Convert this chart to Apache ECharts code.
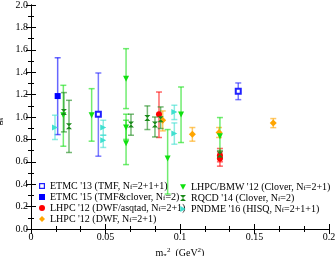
<!DOCTYPE html>
<html><head><meta charset="utf-8">
<script src="https://cdn.jsdelivr.net/npm/echarts@6/dist/echarts.min.js"></script>
<style>html,body{margin:0;padding:0;background:#fff}#c{width:336px;height:256px}</style>
</head><body><div id="c"></div>
<script>
// each point: [m_pi^2, g, lower, upper]
const etmc13 = [[0.0452,1.024,0.650,1.393],[0.1391,1.229,1.155,1.304]];
const etmc15 = [[0.0179,1.187,0.843,1.529]];
const lhpcMixed = [[0.0859,1.025,0.817,1.223],[0.1268,0.659,0.600,0.719],[0.1268,0.630,0.561,0.689]];
const lhpcDwf = [[0.0884,0.971,0.876,1.054],[0.1083,0.846,0.784,0.906],[0.1262,0.861,0.817,0.906],[0.1626,0.947,0.905,0.986]];
const lhpcBmw = [[0.0217,1.016,0.739,1.283],[0.0407,1.016,0.784,1.253],[0.0638,1.342,1.075,1.610],[0.0638,0.906,0.800,1.025],[0.0638,0.766,0.575,0.971],[0.0917,0.630,0.312,0.888],[0.1007,1.022,0.772,1.268],[0.1268,0.829,0.644,0.995]];
const rqcd = [[0.0221,1.045,0.867,1.218],[0.0255,0.918,0.683,1.149],[0.0671,0.933,0.837,1.025],[0.0781,0.992,0.888,1.099],[0.0832,0.933,0.822,1.000],[0.0870,0.980,0.897,1.090],[0.1268,0.665,0.630,0.700]];
const pndme = [[0.0161,0.906,0.799,1.016],[0.0485,0.906,0.837,0.971],[0.0485,0.793,0.728,0.837],[0.0962,1.045,0.977,1.105],[0.0962,0.853,0.757,0.947]];

const xTickLabels = ['0','0.05','0.1','0.15','0.2'];

const seriesDefs = [
  {name:"ETMC '13 (TMF, N{sub|f}=2+1+1)", data:etmc13, color:'#2020ff', symbol:'emptyRect', size:5},
  {name:"ETMC '15 (TMF&clover, N{sub|f}=2)", data:etmc15, color:'#0000ff', symbol:'rect', size:6},
  {name:"LHPC '12 (DWF/asqtad, N{sub|f}=2+1)", data:lhpcMixed, color:'#ff0000', symbol:'circle', size:6},
  {name:"LHPC '12 (DWF, N{sub|f}=2+1)", data:lhpcDwf, color:'#ffa500', symbol:'diamond', size:7},
  {name:"LHPC/BMW '12 (Clover, N{sub|f}=2+1)", data:lhpcBmw, color:'#10e010', symbol:'path://M0,0 L10,0 L5,9 Z', size:6},
  {name:"RQCD '14 (Clover, N{sub|f}=2)", data:rqcd, color:'#1a8a1a', symbol:'path://M0,0 L10,0 L0,10 L10,10 Z', size:6},
  {name:"PNDME '16 (HISQ, N{sub|f}=2+1+1)", data:pndme, color:'#40e0d0', symbol:'path://M0,0 L9,5 L0,10 Z', size:6}
];

const FONT = '"Liberation Serif","DejaVu Serif",serif';
const series = [];
seriesDefs.forEach((d,i)=>{
  series.push({
    type:'custom', name:'err'+i, data:d.data, z:2,
    encode:{x:0, y:[2,3]},
    renderItem:function(params, api){
      const x=api.value(0), lo=api.value(2), hi=api.value(3);
      const a=api.coord([x,lo]), b=api.coord([x,hi]);
      const w=3, st={stroke:d.color, lineWidth:1.5, opacity:0.6};
      return {type:'group', children:[
        {type:'line', shape:{x1:a[0],y1:a[1],x2:b[0],y2:b[1]}, style:st},
        {type:'line', shape:{x1:a[0]-w,y1:a[1],x2:a[0]+w,y2:a[1]}, style:st},
        {type:'line', shape:{x1:b[0]-w,y1:b[1],x2:b[0]+w,y2:b[1]}, style:st}
      ]};
    }
  });
  series.push({
    type:'scatter', name:d.name, z:3,
    data:d.data.map(p=>[p[0],p[1]]),
    symbol:d.symbol, symbolSize:d.size,
    itemStyle:{color:d.color, borderColor:d.color, borderWidth:d.symbol==='emptyRect'?1:0, opacity:1}
  });
});

const legendText = {fontFamily:FONT, fontSize:10, color:'#000', lineHeight:10,
  rich:{sub:{fontFamily:FONT, fontSize:7, lineHeight:6, verticalAlign:'bottom'}}};

const legendData = (arr)=>arr.map(d=>({name:d.name, icon:d.symbol==='emptyRect'?'path://M0,0 L10,0 L10,10 L0,10 Z M2,2 L2,8 L8,8 L8,2 Z':d.symbol,
  itemStyle:{color:d.color, borderWidth:0}}));

const chart = echarts.init(document.getElementById('c'), null, {renderer:'canvas'});
chart.setOption({
  animation:false,
  backgroundColor:'#fff',
  grid:{left:31, right:7, top:5, bottom:27, containLabel:false, outerBoundsMode:'none'},
  legend:[
    {data:legendData(seriesDefs.slice(0,4)), orient:'vertical', left:39, top:181,
     itemWidth:6, itemHeight:6, itemGap:1, textStyle:legendText, selectedMode:false, padding:0},
    {data:legendData(seriesDefs.slice(4)), orient:'vertical', left:180, top:182,
     itemWidth:6, itemHeight:6, itemGap:1, textStyle:legendText, selectedMode:false, padding:0}
  ],
  xAxis:[
    {type:'value', min:0, max:0.2, interval:0.05, position:'bottom',
     axisLine:{lineStyle:{color:'#000', width:1}},
     axisTick:{inside:true, length:5, lineStyle:{color:'#000'}},
     minorTick:{show:true, splitNumber:3, length:3, lineStyle:{color:'#000'}},
     splitLine:{show:false},
     axisLabel:{fontFamily:FONT, fontSize:10, color:'#000', margin:3,
       formatter:(v)=>xTickLabels[Math.round(v/0.05)]},
     name:'m{sub|π}{sup|2}  (GeV{sup|2})', nameLocation:'middle', nameGap:12,
     nameTextStyle:{fontFamily:FONT, fontSize:10, color:'#000', lineHeight:12,
       rich:{sub:{fontFamily:FONT,fontSize:7,lineHeight:6,verticalAlign:'bottom'},
             sup:{fontFamily:FONT,fontSize:7,lineHeight:6,verticalAlign:'top'}}}},
    {type:'value', min:0, max:0.2, interval:0.05, position:'top',
     axisLine:{lineStyle:{color:'#000', width:1}},
     axisTick:{inside:true, length:5, lineStyle:{color:'#000'}},
     minorTick:{show:true, splitNumber:3, length:3, lineStyle:{color:'#000'}},
     splitLine:{show:false}, axisLabel:{show:false}}
  ],
  yAxis:[
    {type:'value', min:0, max:2, interval:0.2, position:'left',
     axisLine:{show:true, lineStyle:{color:'#000', width:1}},
     axisTick:{show:true, inside:true, length:5, lineStyle:{color:'#000'}},
     minorTick:{show:true, splitNumber:2, length:3, lineStyle:{color:'#000'}},
     splitLine:{show:false},
     axisLabel:{fontFamily:FONT, fontSize:10, color:'#000', margin:3, formatter:(v)=>v.toFixed(1)},
     name:'g{sub|s}{sup|u-d}', nameLocation:'middle', nameGap:22, nameRotate:90,
     nameTextStyle:{fontFamily:FONT, fontSize:10, color:'#000', lineHeight:12,
       rich:{sub:{fontFamily:FONT,fontSize:7,lineHeight:6,verticalAlign:'bottom'},
             sup:{fontFamily:FONT,fontSize:7,lineHeight:6,verticalAlign:'top'}}}},
    {type:'value', min:0, max:2, interval:0.2, position:'right',
     axisLine:{show:true, lineStyle:{color:'#000', width:1}},
     axisTick:{show:true, inside:true, length:5, lineStyle:{color:'#000'}},
     minorTick:{show:true, splitNumber:2, length:3, lineStyle:{color:'#000'}},
     splitLine:{show:false}, axisLabel:{show:false}}
  ],
  series:series
});
</script></body></html>
